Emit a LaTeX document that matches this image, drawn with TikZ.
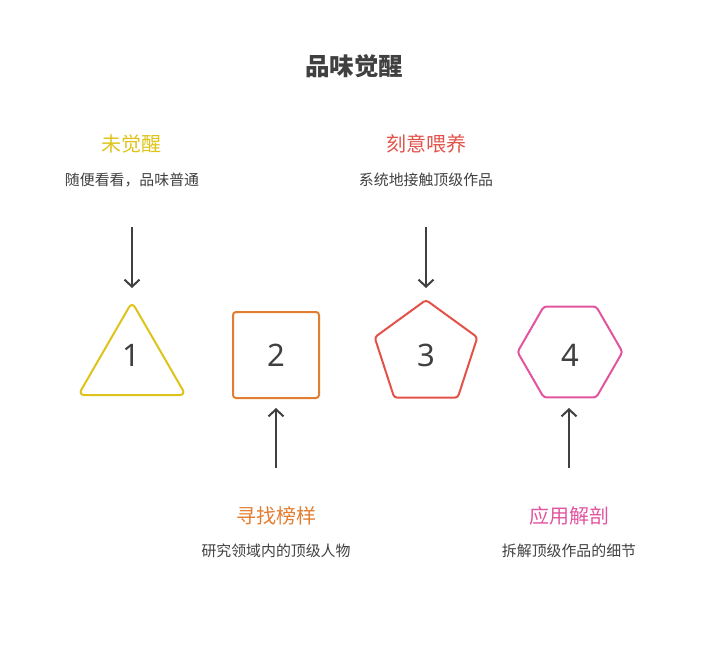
\documentclass[tikz,border=0pt]{standalone}
\usepackage{fontspec}
\setmainfont{Noto Sans}
\newfontfamily\cjk{Noto Sans CJK SC}
\usetikzlibrary{shapes.geometric,arrows.meta}
\definecolor{cyellow}{RGB}{222,196,26}
\definecolor{corange}{RGB}{226,126,50}
\definecolor{cred}{RGB}{226,82,74}
\definecolor{cpink}{RGB}{226,84,160}
\definecolor{cdark}{RGB}{64,64,64}
\tikzset{
  titletext/.style={font=\cjk\bfseries\fontsize{24.5}{28}\selectfont, text=cdark},
  labeltext/.style={font=\cjk\fontsize{20}{24}\selectfont},
  desctext/.style={font=\cjk\fontsize{14.9}{17}\selectfont, text=cdark},
  numtext/.style={font=\fontsize{31}{36}\selectfont, text=cdark},
  shapebox/.style={draw, line width=2pt, inner sep=0pt, rounded corners=3pt},
  conn/.style={draw=cdark, line width=2pt, -{Straight Barb[length=7pt,width=15pt,line width=2pt]}}
}
\begin{document}
\begin{tikzpicture}[x=1pt,y=-1pt]
\useasboundingbox (0,0) rectangle (709,648);
\node[titletext] (title) at (354,66) {品味觉醒};
% shapes
\node[shapebox, draw=cyellow, regular polygon, regular polygon sides=3, minimum size=124pt, rounded corners=6pt] (s1) at (132,364) {};
\node[shapebox, draw=corange, rectangle, minimum size=86pt] (s2) at (276,355) {};
\node[shapebox, draw=cred, regular polygon, regular polygon sides=5, minimum size=108pt] (s3) at (426,354) {};
\node[shapebox, draw=cpink, regular polygon, regular polygon sides=6, minimum size=105pt] (s4) at (570,352) {};
% numbers
\node[numtext] (n1) at (131,355) {1};
\node[numtext] (n2) at (276,355) {2};
\node[numtext] (n3) at (426,355) {3};
\node[numtext] (n4) at (570,355) {4};
% labels
\node[labeltext, text=cyellow] (l1) at (131,144) {未觉醒};
\node[desctext] (d1) at (132,180) {随便看看，品味普通};
\node[labeltext, text=cred] (l3) at (426,144) {刻意喂养};
\node[desctext] (d3) at (426,180) {系统地接触顶级作品};
\node[labeltext, text=corange] (l2) at (276,516) {寻找榜样};
\node[desctext] (d2) at (276,551) {研究领域内的顶级人物};
\node[labeltext, text=cpink] (l4) at (569,516) {应用解剖};
\node[desctext] (d4) at (569,551) {拆解顶级作品的细节};
% connectors
\coordinate (a1) at (132,227);
\coordinate (a1e) at (132,288);
\coordinate (a3) at (426,227);
\coordinate (a3e) at (426,288);
\coordinate (a2) at (276,468);
\coordinate (a2e) at (276,408);
\coordinate (a4) at (569,468);
\coordinate (a4e) at (569,408);
\draw[conn] (a1) -- (a1e);
\draw[conn] (a3) -- (a3e);
\draw[conn] (a2) -- (a2e);
\draw[conn] (a4) -- (a4e);
\end{tikzpicture}
\end{document}
